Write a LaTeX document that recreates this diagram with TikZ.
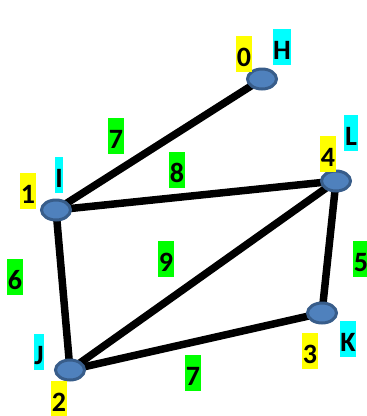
\documentclass[tikz,border=0pt]{standalone}
\usepackage{fontspec}
\setmainfont{Carlito}
\usetikzlibrary{backgrounds,shapes.geometric}
\definecolor{vfill}{RGB}{79,129,189}
\definecolor{vdraw}{RGB}{56,93,138}
\definecolor{tagy}{RGB}{255,255,0}
\definecolor{tagc}{RGB}{0,255,255}
\definecolor{tagg}{RGB}{0,255,0}
\tikzset{
    vertex/.style={ellipse,fill=vfill,draw=vdraw,line width=3pt,minimum width=29pt,minimum height=20pt,inner sep=0pt},
    labeltag/.style={inner xsep=0.6pt,inner ysep=0pt,text height=30pt,text depth=6pt,font=\fontsize{28}{33}\selectfont\bfseries},
    idxtag/.style={labeltag,fill=tagy},
    nametag/.style={labeltag,fill=tagc},
    weighttag/.style={labeltag,fill=tagg},
    edge/.style={line width=7.5pt,black}
}
\begin{document}
\begin{tikzpicture}[x=1pt,y=-1pt]
    \useasboundingbox (0,0) rectangle (367,416);

    \node[vertex] (H) at (262,79) {};
    \node[vertex] (L) at (336,181) {};
    \node[vertex] (I) at (56,210) {};
    \node[vertex] (K) at (322,313) {};
    \node[vertex] (J) at (70,370) {};

    \begin{scope}[on background layer]
        \draw[edge] (H.center) -- (I.center);
        \draw[edge] (I.center) -- (L.center);
        \draw[edge] (L.center) -- (J.center);
        \draw[edge] (L.center) -- (K.center);
        \draw[edge] (I.center) -- (J.center);
        \draw[edge] (J.center) -- (K.center);
    \end{scope}

    % vertex numbers and names
    \node[idxtag] (nH) at (244,54) {0};
    \node[nametag] (tH) at (282,47) {H};
    \node[idxtag] (nL) at (328,154) {4};
    \node[nametag] (tL) at (351,133) {L};
    \node[idxtag] (nI) at (28,191) {1};
    \node[nametag] (tI) at (59,175) {I};
    \node[idxtag] (nK) at (310,351) {3};
    \node[nametag] (tK) at (348,339) {K};
    \node[idxtag] (nJ) at (59,399) {2};
    \node[nametag] (tJ) at (39,352) {J};

    % weights
    \node[weighttag] (wHI) at (116,136) {7};
    \node[weighttag] (wIL) at (177,170) {8};
    \node[weighttag] (wIJ) at (15,277) {6};
    \node[weighttag] (wJL) at (166,259) {9};
    \node[weighttag] (wKL) at (361,259) {5};
    \node[weighttag] (wJK) at (193,373) {7};
\end{tikzpicture}
\end{document}
